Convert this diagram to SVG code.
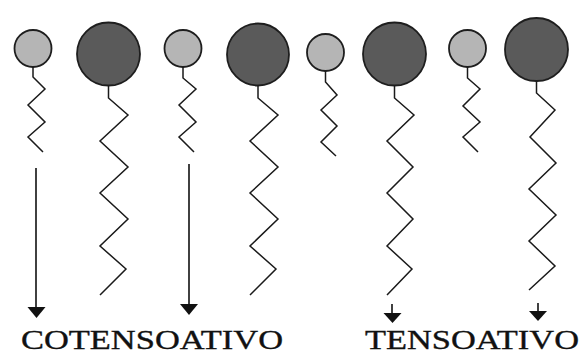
<svg xmlns="http://www.w3.org/2000/svg" width="583" height="352" viewBox="0 0 583 352">
  <style>
    .head-small { fill: #b5b5b5; stroke: #1e1e1e; stroke-width: 1.8; }
    .head-large { fill: #5a5a5a; stroke: #1e1e1e; stroke-width: 1.8; }
    .tail { fill: none; stroke: #1a1a1a; stroke-width: 1.5; stroke-linejoin: miter; }
    .arrow { fill: none; stroke: #111; stroke-width: 1.6; }
    .arrowhead { fill: #111; stroke: none; }
    .label { font-family: "Liberation Serif", "Times New Roman", serif; font-size: 27px; fill: #111; stroke: #111; stroke-width: 0.35; }
  </style>
  <rect width="583" height="352" fill="#ffffff"/>

  <!-- short-chain molecules (light heads) -->
  <g id="mol-small-1">
    <circle class="head-small" cx="33" cy="48.5" r="18.5"/>
    <polyline class="tail" points="33,67 33,77 45,89 28,105 45,122 28,137 43,152"/>
  </g>
  <g id="mol-small-2">
    <circle class="head-small" cx="183" cy="48.5" r="18.5"/>
    <polyline class="tail" points="183,67 183,78 196,89 179,105 196,122 179,137 194,152"/>
  </g>
  <g id="mol-small-3">
    <circle class="head-small" cx="325.5" cy="52.5" r="18.5"/>
    <polyline class="tail" points="325.5,71 325.5,82 337,95 321,110 337,126 321,142 336,156"/>
  </g>
  <g id="mol-small-4">
    <circle class="head-small" cx="467.5" cy="48.5" r="18.5"/>
    <polyline class="tail" points="467.5,67 467.5,78 480,89 463,106 480,122 463,137 478,152"/>
  </g>

  <!-- long-chain molecules (dark heads) -->
  <g id="mol-large-1">
    <circle class="head-large" cx="108.5" cy="54" r="31.5"/>
    <polyline class="tail" points="108.5,85.5 108.5,98 128,115 100,141 128,167 100,193 128,219 100,246 126,269 100,295"/>
  </g>
  <g id="mol-large-2">
    <circle class="head-large" cx="258" cy="54.5" r="31"/>
    <polyline class="tail" points="258,85.5 258,98 278,115 250,141 278,167 250,193 278,219 250,246 276,269 250,295"/>
  </g>
  <g id="mol-large-3">
    <circle class="head-large" cx="394.5" cy="54" r="31.5"/>
    <polyline class="tail" points="394.5,85.5 394.5,98 414,115 387,141 413,167 387,193 413,219 387,246 412,269 387,295"/>
  </g>
  <g id="mol-large-4">
    <circle class="head-large" cx="536.5" cy="49.5" r="31.5"/>
    <polyline class="tail" points="536.5,81 536.5,93 555,110 530,137 556,163 529,189 556,215 529,241 555,266 529,290"/>
  </g>

  <!-- arrows -->
  <g id="connectors">
    <line class="arrow" x1="36" y1="168" x2="36" y2="309"/>
    <polygon class="arrowhead" points="27.5,307 45.5,307 36.5,318"/>
    <line class="arrow" x1="189" y1="164" x2="189" y2="306"/>
    <polygon class="arrowhead" points="180,304 198,304 189,315"/>
    <line class="arrow" x1="392" y1="304" x2="392" y2="315"/>
    <polygon class="arrowhead" points="383.5,313 401.5,313 392.5,323"/>
    <line class="arrow" x1="538" y1="303" x2="538" y2="313"/>
    <polygon class="arrowhead" points="529,311 547,311 538,321"/>
  </g>

  <!-- labels -->
  <g id="labels">
    <text class="label" x="21" y="349" textLength="262" lengthAdjust="spacingAndGlyphs">COTENSOATIVO</text>
    <text class="label" x="365" y="349" textLength="214" lengthAdjust="spacingAndGlyphs">TENSOATIVO</text>
  </g>
</svg>
